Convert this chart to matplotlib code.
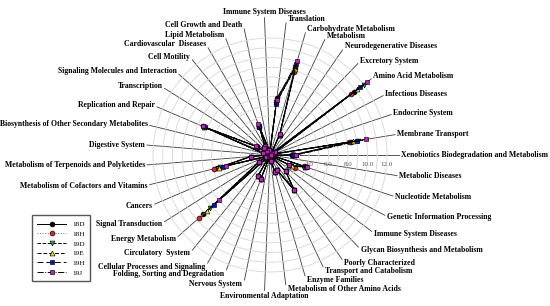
import numpy as np
import matplotlib.pyplot as plt

plt.rcParams['font.family'] = ['Liberation Serif', 'DejaVu Serif']

# KEGG level-2 categories, counter-clockwise starting at 3 o'clock
categories = [
    'Xenobiotics Biodegradation and Metabolism', 'Membrane Transport', 'Endocrine System',
    'Infectious Diseases', 'Amino Acid Metabolism', 'Excretory System',
    'Neurodegenerative Diseases', 'Metabolism', 'Carbohydrate Metabolism', 'Translation',
    'Immune System Diseases', 'Cell Growth and Death', 'Lipid Metabolism',
    'Cardiovascular  Diseases', 'Cell Motility', 'Signaling Molecules and Interaction',
    'Transcription', 'Replication and Repair', 'Biosynthesis of Other Secondary Metabolites',
    'Digestive System', 'Metabolism of Terpenoids and Polyketides',
    'Metabolism of Cofactors and Vitamins', 'Cancers', 'Signal Transduction',
    'Energy Metabolism', 'Circulatory  System', 'Cellular Processes and Signaling',
    'Folding, Sorting and Degradation', 'Nervous System', 'Environmental Adaptation',
    'Metabolism of Other Amino Acids', 'Enzyme Families', 'Transport and Catabolism',
    'Poorly Characterized', 'Glycan Biosynthesis and Metabolism', 'Immune System Diseases',
    'Genetic Information Processing', 'Nucleotide Metabolism', 'Metabolic Diseases',
]

s18D = [2.3, 8.4, 0.3, 0.6, 10.8, 0.1, 0.3, 2.3, 9.3, 5.9, 0.3, 0.5, 3.1, 1.0, 0.9, 0.4,
        1.6, 7.4, 0.7, 0.2, 2.0, 5.6, 0.4, 1.3, 9.2, 0.1, 2.5, 2.6, 0.1, 0.2, 0.6, 1.8,
        1.75, 4.4, 2.3, 0.1, 2.4, 3.8, 0.15]
s18H = [2.4, 8.2, 0.3, 0.6, 10.4, 0.1, 0.3, 2.3, 8.9, 5.5, 0.3, 0.5, 3.1, 1.0, 0.9, 0.4,
        1.6, 7.5, 0.7, 0.2, 2.0, 5.9, 0.4, 1.3, 9.7, 0.1, 2.5, 2.6, 0.1, 0.2, 0.6, 1.8,
        1.75, 4.4, 2.3, 0.1, 2.9, 3.7, 0.15]
s19D = [2.4, 9.15, 0.3, 0.6, 12.0, 0.1, 0.3, 2.3, 9.4, 5.5, 0.3, 0.5, 3.2, 1.0, 0.9, 0.4,
        1.6, 7.4, 0.7, 0.2, 2.0, 5.3, 0.4, 1.3, 8.2, 0.1, 2.5, 2.6, 0.1, 0.2, 0.6, 1.8,
        1.75, 4.4, 2.3, 0.1, 2.4, 3.9, 0.15]
s19E = [2.5, 8.65, 0.3, 0.6, 11.2, 0.1, 0.3, 2.3, 9.2, 5.5, 0.3, 0.5, 3.2, 1.0, 0.9, 0.4,
        1.6, 7.4, 0.7, 0.2, 2.0, 5.4, 0.4, 1.3, 8.7, 0.1, 2.5, 2.6, 0.1, 0.2, 0.6, 1.8,
        1.75, 4.4, 2.3, 0.1, 2.5, 3.8, 0.15]
s19H = [2.4, 9.0, 0.3, 0.6, 11.6, 0.1, 0.3, 2.3, 9.7, 5.3, 0.3, 0.5, 3.1, 1.0, 0.9, 0.4,
        1.6, 7.3, 0.7, 0.2, 2.0, 5.0, 0.4, 1.3, 7.7, 0.1, 2.5, 2.6, 0.1, 0.2, 0.6, 1.8,
        1.75, 4.4, 2.3, 0.1, 2.2, 3.9, 0.15]
s19J = [2.7, 9.95, 0.3, 0.6, 12.5, 0.1, 0.3, 2.4, 10.0, 5.7, 0.3, 0.5, 3.4, 1.05, 0.9, 0.4,
        1.65, 7.5, 0.7, 0.2, 2.0, 4.7, 0.4, 1.3, 7.0, 0.1, 2.5, 2.6, 0.1, 0.2, 0.6, 1.8,
        1.75, 4.4, 2.3, 0.1, 2.2, 4.0, 0.15]

series = {'18D': s18D, '18H': s18H, '19D': s19D, '19E': s19E, '19H': s19H, '19J': s19J}

# layout: how far each spoke runs out to meet its label
spoke_len = [13.2, 13.0, 13.1, 13.1, 13.0, 13.0, 13.1, 13.1, 13.05, 13.65, 14.1, 13.2, 12.75,
             12.7, 12.6, 12.5, 12.8, 12.6, 12.7, 12.65, 12.65, 12.7, 12.85, 12.8, 12.6, 12.6,
             12.8, 12.6, 13.1, 13.9, 13.4, 12.9, 12.7, 13.0, 13.1, 13.05, 13.3, 13.3, 13.2]

styles = {
    '18D': dict(ls='-', marker='o', mfc='#000000', color='black'),
    '18H': dict(ls=':', marker='o', mfc='#d42a1e', color='#777777'),
    '19D': dict(ls='--', marker='v', mfc='#2db52d', color='black'),
    '19E': dict(ls=(0, (4, 2)), marker='^', mfc='#f2f200', color='black'),
    '19H': dict(ls=(0, (6, 3)), marker='s', mfc='#1010d0', color='black'),
    '19J': dict(ls='-.', marker='s', mfc='#c21ec2', color='black'),
}

W, H = 550, 306
cx, cy = 270, 155          # centre of the web in pixels
px_per_unit = 9.75
rmax = 14
R = rmax * px_per_unit

fig = plt.figure(figsize=(W / 100, H / 100), dpi=100)
ax = fig.add_axes([(cx - R) / W, (H - cy - R) / H, 2 * R / W, 2 * R / H], projection='polar')
ax.set_ylim(0, rmax)
ax.set_xticks([])
ax.set_yticks(np.arange(1, 13))
ax.set_yticklabels([])
ax.yaxis.grid(True, color='#d6d6d6', lw=0.6)
ax.spines['polar'].set_visible(False)
ax.set_facecolor('none')

n = len(categories)
theta = np.arange(n) * 2 * np.pi / n

# spokes
for th, r in zip(theta, spoke_len):
    ax.plot([th, th], [0, r], color='#3c3c3c', lw=0.6, zorder=1, clip_on=False)

# radial scale labels
for v in range(0, 13, 2):
    ax.annotate('%.1f' % v, xy=(0, v), xytext=(0, -7), textcoords='offset points',
                ha='center', va='center', fontsize=5, color='#555555', zorder=2)

# series
th_closed = np.append(theta, theta[0])
for z, (name, vals) in enumerate(series.items()):
    st = styles[name]
    v = np.append(vals, vals[0])
    ax.plot(th_closed, v, color=st['color'], ls=st['ls'], lw=0.7, marker=st['marker'],
            mfc=st['mfc'], mec='black', mew=0.45, ms=3.5, label=name, zorder=3 + z,
            clip_on=False)

# category labels
for i, (th, r, lab) in enumerate(zip(theta, spoke_len, categories)):
    c, s = np.cos(th), np.sin(th)
    if abs(c) < 0.1:
        ha = 'center'
        va = 'bottom' if s > 0 else 'top'
        off = (0, 1 if s > 0 else -1)
    else:
        ha = 'left' if c > 0 else 'right'
        va = 'center'
        off = (1.5 * np.sign(c), 3.0 * s)
    ax.annotate(lab, xy=(th, r), xytext=off, textcoords='offset points', ha=ha, va=va,
                fontsize=5.6, fontweight='bold', annotation_clip=False)

fig.legend(loc='lower left', bbox_to_anchor=(28 / W, (H - 285) / H), fontsize=5.2,
           frameon=True, fancybox=False, edgecolor='#555555', framealpha=1,
           handlelength=4.0, labelspacing=0.5, borderpad=0.8, handletextpad=0.8)

fig.savefig('out.png', dpi=100)
